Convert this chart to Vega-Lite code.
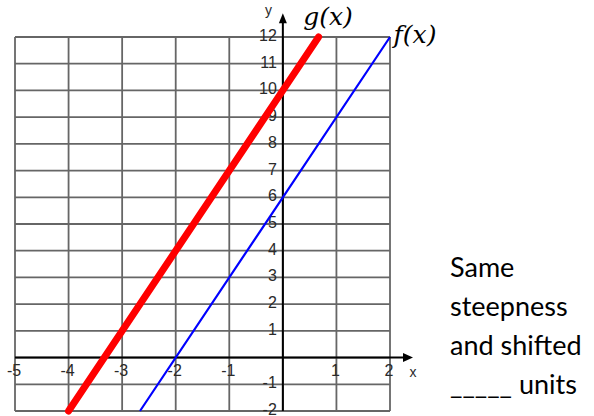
{
  "$schema": "https://vega.github.io/schema/vega-lite/v6.json",
  "width": 375,
  "height": 374,
  "autosize": {"type": "none"},
  "padding": {"left": 15, "top": 37, "right": 204, "bottom": 5},
  "background": "white",
  "config": {"view": {"stroke": null}},
  "datasets": {
    "vgrid": [{"x": -5}, {"x": -4}, {"x": -3}, {"x": -2}, {"x": -1}, {"x": 0}, {"x": 1}, {"x": 2}],
    "hgrid": [{"y": -2}, {"y": -1}, {"y": 0}, {"y": 1}, {"y": 2}, {"y": 3}, {"y": 4}, {"y": 5}, {"y": 6}, {"y": 7}, {"y": 8}, {"y": 9}, {"y": 10}, {"y": 11}, {"y": 12}],
    "lines": [
      {"fn": "g", "x": -4, "y": -2},
      {"fn": "g", "x": 0, "y": 10},
      {"fn": "g", "x": 0.6667, "y": 12},
      {"fn": "f", "x": -2.6667, "y": -2},
      {"fn": "f", "x": 0, "y": 6},
      {"fn": "f", "x": 2, "y": 12}
    ],
    "xticks": [{"v": -5}, {"v": -4}, {"v": -3}, {"v": -2}, {"v": -1}, {"v": 1}, {"v": 2}],
    "yticks": [{"v": -2}, {"v": -1}, {"v": 1}, {"v": 2}, {"v": 3}, {"v": 4}, {"v": 5}, {"v": 6}, {"v": 7}, {"v": 8}, {"v": 9}, {"v": 10}, {"v": 11}, {"v": 12}],
    "one": [{}]
  },
  "layer": [
    {
      "data": {"name": "vgrid"},
      "mark": {"type": "rule", "stroke": "#666666", "strokeWidth": 1.8},
      "encoding": {
        "x": {"field": "x", "type": "quantitative", "scale": {"domain": [-5, 2], "nice": false, "zero": false}, "axis": null},
        "y": {"datum": -2, "type": "quantitative", "scale": {"domain": [-2, 12], "nice": false, "zero": false}, "axis": null},
        "y2": {"datum": 12}
      }
    },
    {
      "data": {"name": "hgrid"},
      "mark": {"type": "rule", "stroke": "#666666", "strokeWidth": 1.8},
      "encoding": {
        "y": {"field": "y", "type": "quantitative", "scale": {"domain": [-2, 12], "nice": false, "zero": false}, "axis": null},
        "x": {"datum": -5, "type": "quantitative", "scale": {"domain": [-5, 2], "nice": false, "zero": false}, "axis": null},
        "x2": {"datum": 2}
      }
    },
    {
      "data": {"name": "one"},
      "mark": {"type": "rule", "stroke": "black", "strokeWidth": 2},
      "encoding": {
        "x": {"datum": -5, "type": "quantitative", "scale": {"domain": [-5, 2], "nice": false, "zero": false}, "axis": null},
        "x2": {"datum": 2.3},
        "y": {"datum": 0, "type": "quantitative", "scale": {"domain": [-2, 12], "nice": false, "zero": false}, "axis": null}
      }
    },
    {
      "data": {"name": "one"},
      "mark": {"type": "rule", "stroke": "black", "strokeWidth": 2},
      "encoding": {
        "y": {"datum": -2, "type": "quantitative", "scale": {"domain": [-2, 12], "nice": false, "zero": false}, "axis": null},
        "y2": {"datum": 12.6},
        "x": {"datum": 0, "type": "quantitative", "scale": {"domain": [-5, 2], "nice": false, "zero": false}, "axis": null}
      }
    },
    {
      "data": {"name": "one"},
      "mark": {"type": "point", "shape": "M0,-1L0.8,1L-0.8,1Z", "filled": true, "color": "black", "opacity": 1, "size": 100},
      "encoding": {
        "x": {"datum": 0, "type": "quantitative", "scale": {"domain": [-5, 2], "nice": false, "zero": false}, "axis": null},
        "y": {"datum": 12.7, "type": "quantitative", "scale": {"domain": [-2, 12], "nice": false, "zero": false}, "axis": null}
      }
    },
    {
      "data": {"name": "one"},
      "mark": {"type": "point", "shape": "M1,0L-1,-0.9L-1,0.9Z", "filled": true, "color": "black", "opacity": 1, "size": 100},
      "encoding": {
        "x": {"datum": 2.336, "type": "quantitative", "scale": {"domain": [-5, 2], "nice": false, "zero": false}, "axis": null},
        "y": {"datum": 0, "type": "quantitative", "scale": {"domain": [-2, 12], "nice": false, "zero": false}, "axis": null}
      }
    },
    {
      "data": {"name": "xticks"},
      "mark": {"type": "text", "font": "Liberation Sans Narrow, Liberation Sans, sans-serif", "fontSize": 16, "color": "#2a2a2a", "align": "center", "baseline": "top", "dy": 5, "dx": -1},
      "encoding": {
        "x": {"field": "v", "type": "quantitative", "scale": {"domain": [-5, 2], "nice": false, "zero": false}, "axis": null},
        "y": {"datum": 0, "type": "quantitative", "scale": {"domain": [-2, 12], "nice": false, "zero": false}, "axis": null},
        "text": {"field": "v", "type": "nominal"}
      }
    },
    {
      "data": {"name": "yticks"},
      "mark": {"type": "text", "font": "Liberation Sans Narrow, Liberation Sans, sans-serif", "fontSize": 16, "color": "#2a2a2a", "align": "right", "baseline": "middle", "dx": -6, "dy": -1},
      "encoding": {
        "y": {"field": "v", "type": "quantitative", "scale": {"domain": [-2, 12], "nice": false, "zero": false}, "axis": null},
        "x": {"datum": 0, "type": "quantitative", "scale": {"domain": [-5, 2], "nice": false, "zero": false}, "axis": null},
        "text": {"field": "v", "type": "nominal"}
      }
    },
    {
      "data": {"name": "lines"},
      "transform": [{"filter": "datum.fn === 'f'"}],
      "mark": {"type": "line", "stroke": "#0000ff", "strokeWidth": 2.2},
      "encoding": {
        "x": {"field": "x", "type": "quantitative", "scale": {"domain": [-5, 2], "nice": false, "zero": false}, "axis": null},
        "y": {"field": "y", "type": "quantitative", "scale": {"domain": [-2, 12], "nice": false, "zero": false}, "axis": null}
      }
    },
    {
      "data": {"name": "lines"},
      "transform": [{"filter": "datum.fn === 'g'"}],
      "mark": {"type": "line", "stroke": "#ff0000", "strokeWidth": 7, "strokeCap": "round"},
      "encoding": {
        "x": {"field": "x", "type": "quantitative", "scale": {"domain": [-5, 2], "nice": false, "zero": false}, "axis": null},
        "y": {"field": "y", "type": "quantitative", "scale": {"domain": [-2, 12], "nice": false, "zero": false}, "axis": null}
      }
    },
    {
      "data": {"name": "one"},
      "mark": {"type": "text", "font": "DejaVu Serif", "fontStyle": "italic", "fontSize": 25, "color": "black", "align": "center", "baseline": "middle"},
      "encoding": {
        "x": {"datum": 0.843, "type": "quantitative", "scale": {"domain": [-5, 2], "nice": false, "zero": false}, "axis": null},
        "y": {"datum": 12.75, "type": "quantitative", "scale": {"domain": [-2, 12], "nice": false, "zero": false}, "axis": null},
        "text": {"value": "g(x)"}
      }
    },
    {
      "data": {"name": "one"},
      "mark": {"type": "text", "font": "DejaVu Serif", "fontStyle": "italic", "fontSize": 25, "color": "black", "align": "center", "baseline": "middle"},
      "encoding": {
        "x": {"datum": 2.467, "type": "quantitative", "scale": {"domain": [-5, 2], "nice": false, "zero": false}, "axis": null},
        "y": {"datum": 12.08, "type": "quantitative", "scale": {"domain": [-2, 12], "nice": false, "zero": false}, "axis": null},
        "text": {"value": "f(x)"}
      }
    },
    {
      "data": {"name": "one"},
      "mark": {"type": "text", "font": "Liberation Sans Narrow, Liberation Sans, sans-serif", "fontSize": 14, "color": "#2a2a2a", "align": "center", "baseline": "middle"},
      "encoding": {
        "x": {"datum": -0.268, "type": "quantitative", "scale": {"domain": [-5, 2], "nice": false, "zero": false}, "axis": null},
        "y": {"datum": 12.97, "type": "quantitative", "scale": {"domain": [-2, 12], "nice": false, "zero": false}, "axis": null},
        "text": {"value": "y"}
      }
    },
    {
      "data": {"name": "one"},
      "mark": {"type": "text", "font": "Liberation Sans Narrow, Liberation Sans, sans-serif", "fontSize": 14, "color": "#2a2a2a", "align": "center", "baseline": "middle"},
      "encoding": {
        "x": {"datum": 2.43, "type": "quantitative", "scale": {"domain": [-5, 2], "nice": false, "zero": false}, "axis": null},
        "y": {"datum": -0.578, "type": "quantitative", "scale": {"domain": [-2, 12], "nice": false, "zero": false}, "axis": null},
        "text": {"value": "x"}
      }
    },
    {
      "data": {"name": "one"},
      "mark": {"type": "text", "font": "Lato", "fontSize": 27, "color": "black", "align": "left", "baseline": "alphabetic", "lineHeight": 39},
      "encoding": {
        "x": {"datum": 3.12, "type": "quantitative", "scale": {"domain": [-5, 2], "nice": false, "zero": false}, "axis": null},
        "y": {"datum": 3.016, "type": "quantitative", "scale": {"domain": [-2, 12], "nice": false, "zero": false}, "axis": null},
        "text": {"value": ["Same", "steepness", "and shifted", "_____ units"]}
      }
    }
  ]
}
